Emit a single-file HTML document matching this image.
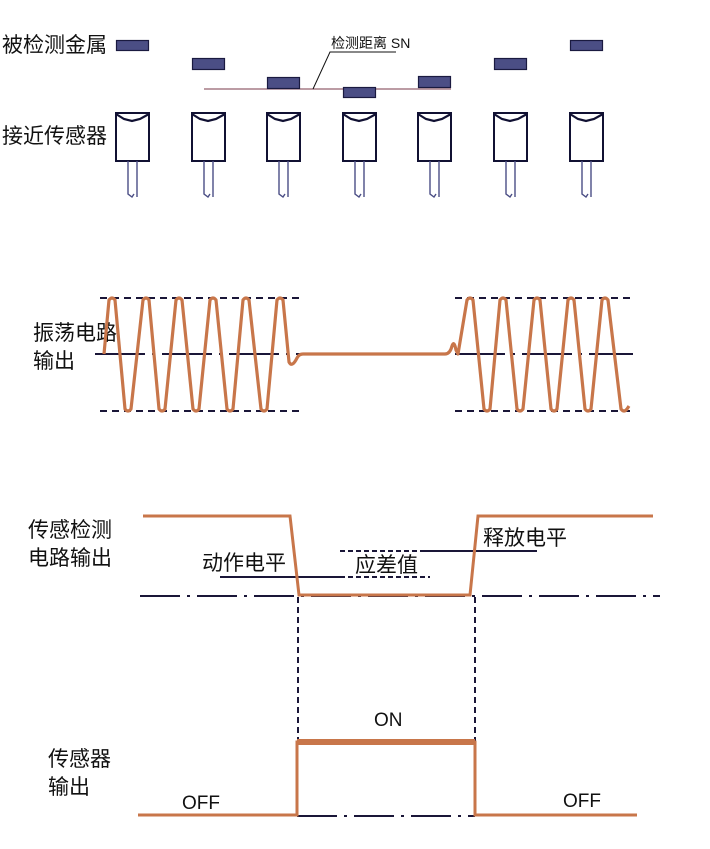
<!DOCTYPE html>
<html><head><meta charset="utf-8"><style>
body{margin:0;background:#fff}
svg{display:block}
text{font-family:"Liberation Sans","Noto Sans CJK SC",sans-serif;fill:#111}
</style></head><body>
<svg id="s" width="710" height="849" viewBox="0 0 710 849" xmlns="http://www.w3.org/2000/svg">
<g font-size="21">
<text x="2" y="52">被检测金属</text>
<text x="2" y="143">接近传感器</text>
<text x="33" y="340">振荡电路</text>
<text x="33" y="368">输出</text>
<text x="28" y="537">传感检测</text>
<text x="28" y="565">电路输出</text>
<text x="48" y="766">传感器</text>
<text x="48" y="794">输出</text>
<text x="202" y="570">动作电平</text>
<text x="355" y="572">应差值</text>
<text x="483" y="545">释放电平</text>
</g>
<g font-size="19">
<text x="182" y="809">OFF</text>
<text x="374" y="726">ON</text>
<text x="563" y="807">OFF</text>
</g>
<text x="331" y="48" font-size="14">检测距离 SN</text>
<line x1="204" y1="89" x2="451" y2="89" stroke="#7a3a4a" stroke-width="1"/>
<polyline points="313,89 330,52 396,52" fill="none" stroke="#111" stroke-width="1"/>
<g fill="#4b4e85" stroke="#1a1a40" stroke-width="1.2">
<rect x="116.5" y="40.5" width="32" height="10"/>
<rect x="192.5" y="58.5" width="32" height="11"/>
<rect x="267.5" y="77.5" width="32" height="11"/>
<rect x="343.5" y="87.5" width="32" height="10"/>
<rect x="418.5" y="76.5" width="32" height="11"/>
<rect x="494.5" y="58.5" width="32" height="11"/>
<rect x="570.5" y="40.5" width="32" height="10"/>
</g>
<g id="sensors"></g>
<g stroke="#1a1638" stroke-width="2" stroke-dasharray="7,5">
<line x1="100" y1="298" x2="303" y2="298"/><line x1="100" y1="411" x2="303" y2="411"/>
<line x1="455" y1="298" x2="633" y2="298"/><line x1="455" y1="411" x2="633" y2="411"/>
</g>
<g stroke="#1a1638" stroke-width="2" stroke-dasharray="50,7,3,7">
<line x1="95" y1="354" x2="303" y2="354"/><line x1="455" y1="354" x2="633" y2="354"/>
</g>
<path id="wave" fill="none" stroke="#c8764a" stroke-width="3.2" stroke-linejoin="round"/>
<g stroke="#1a1638" stroke-width="2">
<line x1="140" y1="596" x2="660" y2="596" stroke-dasharray="40,7,3,7"/>
<line x1="220" y1="577" x2="340" y2="577"/>
<line x1="340" y1="577" x2="430" y2="577" stroke-dasharray="5,3"/>
<line x1="340" y1="551" x2="425" y2="551" stroke-dasharray="5,3"/>
<line x1="425" y1="551" x2="537" y2="551"/>
<line x1="298" y1="597" x2="298" y2="742" stroke-dasharray="6,4"/>
<line x1="475" y1="597" x2="475" y2="742" stroke-dasharray="6,4"/>
<line x1="297" y1="816" x2="475" y2="816" stroke-dasharray="40,7,3,7"/>
</g>
<polyline points="143,516 290,516 299,595 470,595 478,516 653,516" fill="none" stroke="#c8764a" stroke-width="3"/>
<polyline points="138,815 297,815 297,742 475,742 475,815 637,815" fill="none" stroke="#c8764a" stroke-width="3"/>
<line x1="297" y1="742" x2="475" y2="742" stroke="#c8764a" stroke-width="6"/>
</svg>
<script>
var g=document.getElementById('sensors'),h='';
[132,208,283,359,434,510,586].forEach(function(c){
h+='<rect x="'+(c-16)+'" y="113" width="33" height="48" fill="#fff" stroke="#111133" stroke-width="2"/>';
h+='<path d="M'+(c-16)+' 114 L'+(c-8)+' 119 L'+c+' 121 L'+(c+8)+' 119 L'+(c+17)+' 114" fill="none" stroke="#111133" stroke-width="2.2"/>';
h+='<path d="M'+(c-4)+' 161 V194 L'+(c)+' 197 L'+(c+2)+' 194 M'+(c+5)+' 161 V197" fill="none" stroke="#4b4e85" stroke-width="1.4"/>';
});
g.innerHTML=h;
var d='M104 354';
var L=[112,128,146,162,179,196,213,230,246,264,280];
var y;
for(var i=0;i<L.length;i++){y=(i%2==0)?300:409;d+=' L'+(L[i]-3)+' '+y+' Q'+L[i]+' '+(i%2==0?296:413)+' '+(L[i]+3)+' '+y;}
d+=' L289 362 Q292 368 297 358 Q299 354 303 354 L445 354 Q450 354 452 346 Q454 340 456 350 L458 354';
var R=[470,487,503,520,537,554,571,588,605,624];
for(i=0;i<R.length;i++){y=(i%2==0)?300:409;d+=' L'+(R[i]-3)+' '+y+' Q'+R[i]+' '+(i%2==0?296:413)+' '+(R[i]+3)+' '+y;}
d+=' L629 406';
document.getElementById('wave').setAttribute('d',d);
</script>
</body></html>
